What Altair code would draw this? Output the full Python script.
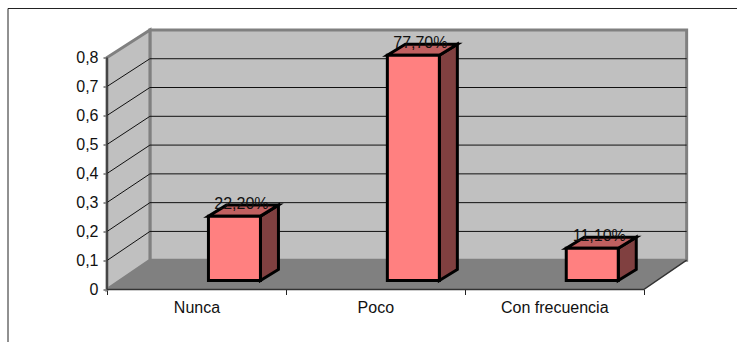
import altair as alt
import pandas as pd

categories = ["Nunca", "Poco", "Con frecuencia"]
values = [0.222, 0.777, 0.111]
grid_levels = [0.1, 0.2, 0.3, 0.4, 0.5, 0.6, 0.7]
y_ticks = [0, 0.1, 0.2, 0.3, 0.4, 0.5, 0.6, 0.7, 0.8]
x_ticks = [0, 0.5, 1, 1.5, 2, 2.5, 3]

# Oblique projection, in axis units
WALL_DX = 0.24
WALL_DY = 0.101
WALL_SHRINK = 0.9925
BAR_SHIFT = 0.2124
BAR_WIDTH = 0.2907
BAR_DX = 0.1006
BAR_DY = 0.038
BAR_BASE = 0.031
YMAX = 0.8

x_scale = alt.Scale(domain=[0, 3.242], nice=False, zero=False)
y_scale = alt.Scale(domain=[0, 0.9], nice=False, zero=False)

x_axis = alt.Axis(
    values=x_ticks, domain=False, grid=False, title=None, tickSize=5, tickWidth=1, tickColor="#222222",
    tickOpacity={"condition": {"test": "datum.value % 1 == 0", "value": 1}, "value": 0},
    labelExpr="datum.value == 0.5 ? 'Nunca' : datum.value == 1.5 ? 'Poco' : datum.value == 2.5 ? 'Con frecuencia' : ''",
    labelFont="Liberation Sans", labelFontSize=16, labelColor="#111111",
    labelPadding=5, labelOverlap=False, labelFlush=False, labelBound=False,
)
y_axis = alt.Axis(
    values=y_ticks, domain=False, grid=False, title=None, tickSize=4, tickWidth=1, tickColor="#222222",
    labelExpr="datum.value == 0 ? '0' : replace(format(datum.value, '.1f'), '.', ',')",
    labelFont="Liberation Sans", labelFontSize=16, labelColor="#111111",
    labelPadding=5, labelOverlap=False, labelFlush=False,
)


def back(v):
    return v * WALL_SHRINK + WALL_DY


def X():
    return alt.X("x:Q", scale=x_scale, axis=x_axis, stack=None)


def Y():
    return alt.Y("y:Q", scale=y_scale, axis=y_axis, stack=None)


# Planes of the box
back_wall = pd.DataFrame({"x": [WALL_DX, 3 + WALL_DX], "y": [back(0)] * 2, "y2": [back(YMAX)] * 2})
left_wall = pd.DataFrame({"x": [0, WALL_DX], "y": [0, back(0)], "y2": [YMAX, back(YMAX)]})
floor = pd.DataFrame({"y": [0, back(0)], "x": [0, WALL_DX], "x2": [3, 3 + WALL_DX]})

wall_style = dict(fill="#C0C0C0", stroke="#808080", strokeWidth=3, strokeJoin="miter")

back_layer = alt.Chart(back_wall).mark_area(**wall_style).encode(x=X(), y=Y(), y2="y2:Q")
left_layer = alt.Chart(left_wall).mark_area(**wall_style).encode(x=X(), y=Y(), y2="y2:Q")
floor_layer = alt.Chart(floor).mark_area(orient="horizontal", fill="#808080").encode(
    x=X(), x2="x2:Q", y=Y()
)

# Gridlines run across the side wall, then along the back wall
grid_rows = []
for level in grid_levels:
    grid_rows += [
        {"level": level, "step": 0, "x": 0, "y": level},
        {"level": level, "step": 1, "x": WALL_DX, "y": back(level)},
        {"level": level, "step": 2, "x": 3 + WALL_DX, "y": back(level)},
    ]
grid_layer = alt.Chart(pd.DataFrame(grid_rows)).mark_line(color="#111111", strokeWidth=1).encode(
    x=X(), y=Y(), detail="level:N", order="step:Q"
)

# Axis lines and the right-hand edge of the floor
edges = pd.DataFrame([
    {"id": "y", "step": 0, "x": 0, "y": 0},
    {"id": "y", "step": 1, "x": 0, "y": YMAX},
    {"id": "x", "step": 0, "x": 0, "y": 0},
    {"id": "x", "step": 1, "x": 3, "y": 0},
    {"id": "x", "step": 2, "x": 3 + WALL_DX, "y": back(0)},
])
edge_layer = alt.Chart(edges).mark_line(color="#333333", strokeWidth=1.5).encode(
    x=X(), y=Y(), detail="id:N", order="step:Q"
)

# Bars
bar_rows, side_rows, top_rows, label_rows = [], [], [], []
for i, (cat, v) in enumerate(zip(categories, values)):
    left = i + 0.5 + BAR_SHIFT - BAR_WIDTH / 2
    right = left + BAR_WIDTH
    top = BAR_BASE + v
    bar_rows.append({"cat": cat, "x": left, "x2": right, "y": BAR_BASE, "y2": top})
    side_rows += [
        {"cat": cat, "x": right, "y": BAR_BASE, "y2": top},
        {"cat": cat, "x": right + BAR_DX, "y": BAR_BASE + BAR_DY, "y2": top + BAR_DY},
    ]
    top_rows += [
        {"cat": cat, "y": top, "x": left, "x2": right},
        {"cat": cat, "y": top + BAR_DY, "x": left + BAR_DX, "x2": right + BAR_DX},
    ]
    label_rows.append({
        "x": (left + right) / 2,
        "y": top,
        "label": f"{v * 100:.2f}%".replace(".", ","),
    })

bar_stroke = dict(stroke="#000000", strokeWidth=3, strokeJoin="miter")
side_layer = alt.Chart(pd.DataFrame(side_rows)).mark_area(fill="#804040", **bar_stroke).encode(
    x=X(), y=Y(), y2="y2:Q", detail="cat:N"
)
top_layer = alt.Chart(pd.DataFrame(top_rows)).mark_area(orient="horizontal", fill="#C06060", **bar_stroke).encode(
    x=X(), x2="x2:Q", y=Y(), detail="cat:N"
)
front_layer = alt.Chart(pd.DataFrame(bar_rows)).mark_rect(fill="#FF8080", **bar_stroke).encode(
    x=X(), x2="x2:Q", y=Y(), y2="y2:Q"
)
label_layer = alt.Chart(pd.DataFrame(label_rows)).mark_text(
    font="Liberation Sans", fontSize=16, color="#111111", dx=7, dy=-12, baseline="middle", align="center"
).encode(x=X(), y=Y(), text="label:N")

# Outer frame of the figure
frame_top = alt.Chart(pd.DataFrame({"a": [0]})).mark_rule(color="#222222", strokeWidth=1).encode(
    x=alt.value(-99), x2=alt.value(640), y=alt.value(-20)
)
frame_left = alt.Chart(pd.DataFrame({"a": [0]})).mark_rule(color="#222222", strokeWidth=1).encode(
    x=alt.value(-99), y=alt.value(-20), y2=alt.value(320)
)

chart = alt.layer(
    back_layer, left_layer, floor_layer, grid_layer, edge_layer,
    side_layer, top_layer, front_layer, label_layer, frame_top, frame_left,
).properties(
    width=580,
    height=261,
    autosize=alt.AutoSizeParams(type="none"),
    padding={"left": 107, "top": 28.5, "right": 50, "bottom": 52.5},
    background="#FFFFFF",
).configure_view(stroke=None)

chart.save("out.html", embed_options={"renderer": "svg", "actions": False})
